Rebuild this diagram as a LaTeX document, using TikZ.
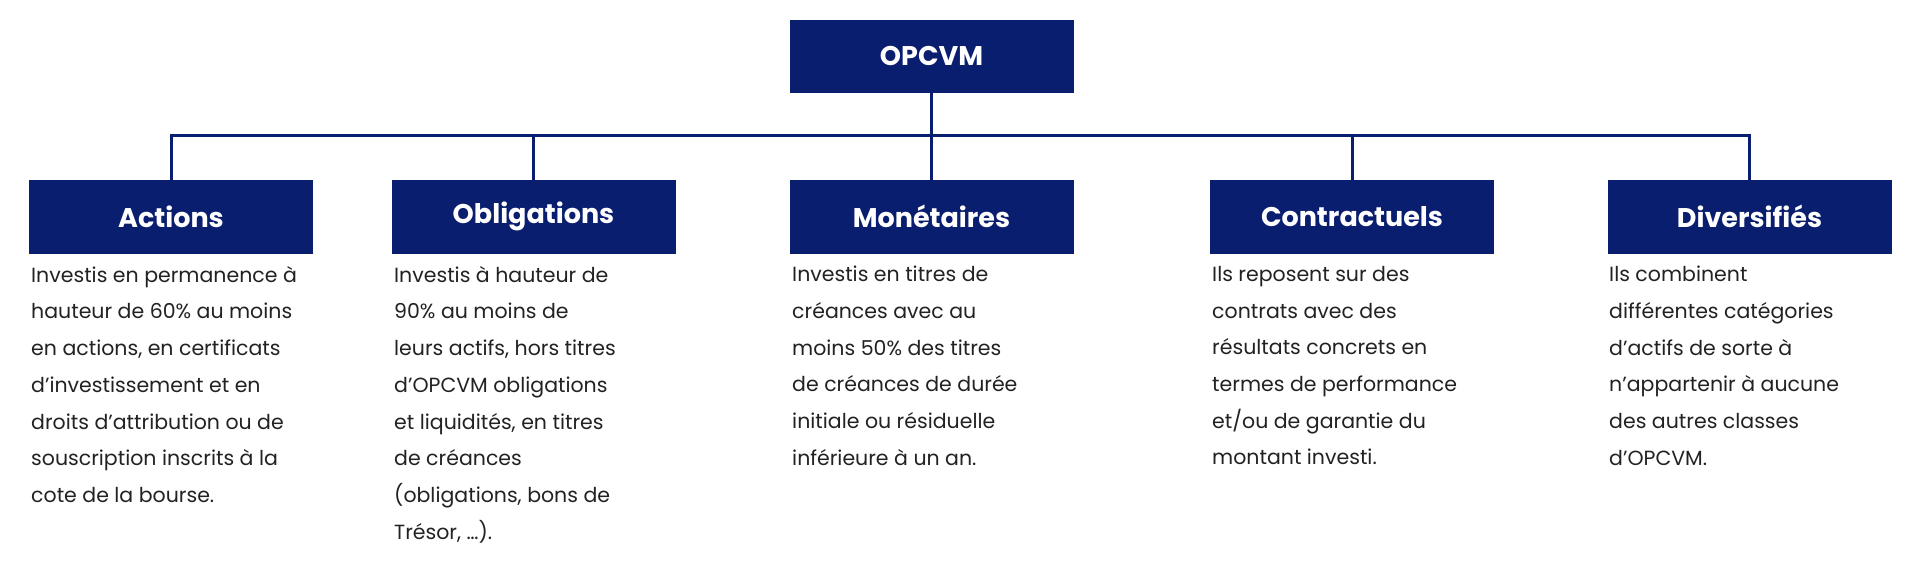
\documentclass[tikz,border=0pt]{standalone}
\usepackage{fontspec}
\setmainfont{Poppins}
\definecolor{navy}{HTML}{0A1E70}
\definecolor{txt}{HTML}{222222}
\begin{document}
\begin{tikzpicture}[x=1pt,y=-1pt,
  hbox/.style={fill=navy,draw=navy,minimum width=283pt,minimum height=73pt,inner sep=0pt,text=white,font=\fontsize{27}{30}\selectfont\bfseries},
  desc/.style={anchor=north west,align=left,inner sep=0pt,text=txt,font=\fontsize{20.5}{36.7}\selectfont},
  conn/.style={draw=navy,line width=3pt}]
\useasboundingbox (0,0) rectangle (1920,573);
\node[hbox,minimum width=283pt,minimum height=72pt] (top) at (931.5,56) {OPCVM};
\node[hbox] (a) at (171,216.5) {Actions};
\node[hbox] (b) at (533.5,216.5) {Obligations};
\node[hbox] (c) at (931.5,216.5) {Monétaires};
\node[hbox] (d) at (1352,216.5) {Contractuels};
\node[hbox] (e) at (1749.5,216.5) {Diversifiés};
\coordinate (bar) at (931.5,135);
\draw[conn] (top.south) -- (bar);
\draw[conn] (a.north) |- (bar) -| (e.north);
\draw[conn] (b.north) -- (b.north |- bar);
\draw[conn] (c.north) -- (bar);
\draw[conn] (d.north) -- (d.north |- bar);
\node[desc] (ta) at (31,266) {Investis en permanence à\\hauteur de 60\% au moins\\en actions, en certificats\\d’investissement et en\\droits d’attribution ou de\\souscription inscrits à la\\cote de la bourse.};
\node[desc] (tb) at (394,266) {Investis à hauteur de\\90\% au moins de\\leurs actifs, hors titres\\d’OPCVM obligations\\et liquidités, en titres\\de créances\\(obligations, bons de\\Trésor, …).};
\node[desc] (tc) at (792,266) {Investis en titres de\\créances avec au\\moins 50\% des titres\\de créances de durée\\initiale ou résiduelle\\inférieure à un an.};
\node[desc] (td) at (1212,266) {Ils reposent sur des\\contrats avec des\\résultats concrets en\\termes de performance\\et/ou de garantie du\\montant investi.};
\node[desc] (te) at (1609,266) {Ils combinent\\différentes catégories\\d’actifs de sorte à\\n’appartenir à aucune\\des autres classes\\d’OPCVM.};
\end{tikzpicture}
\end{document}
